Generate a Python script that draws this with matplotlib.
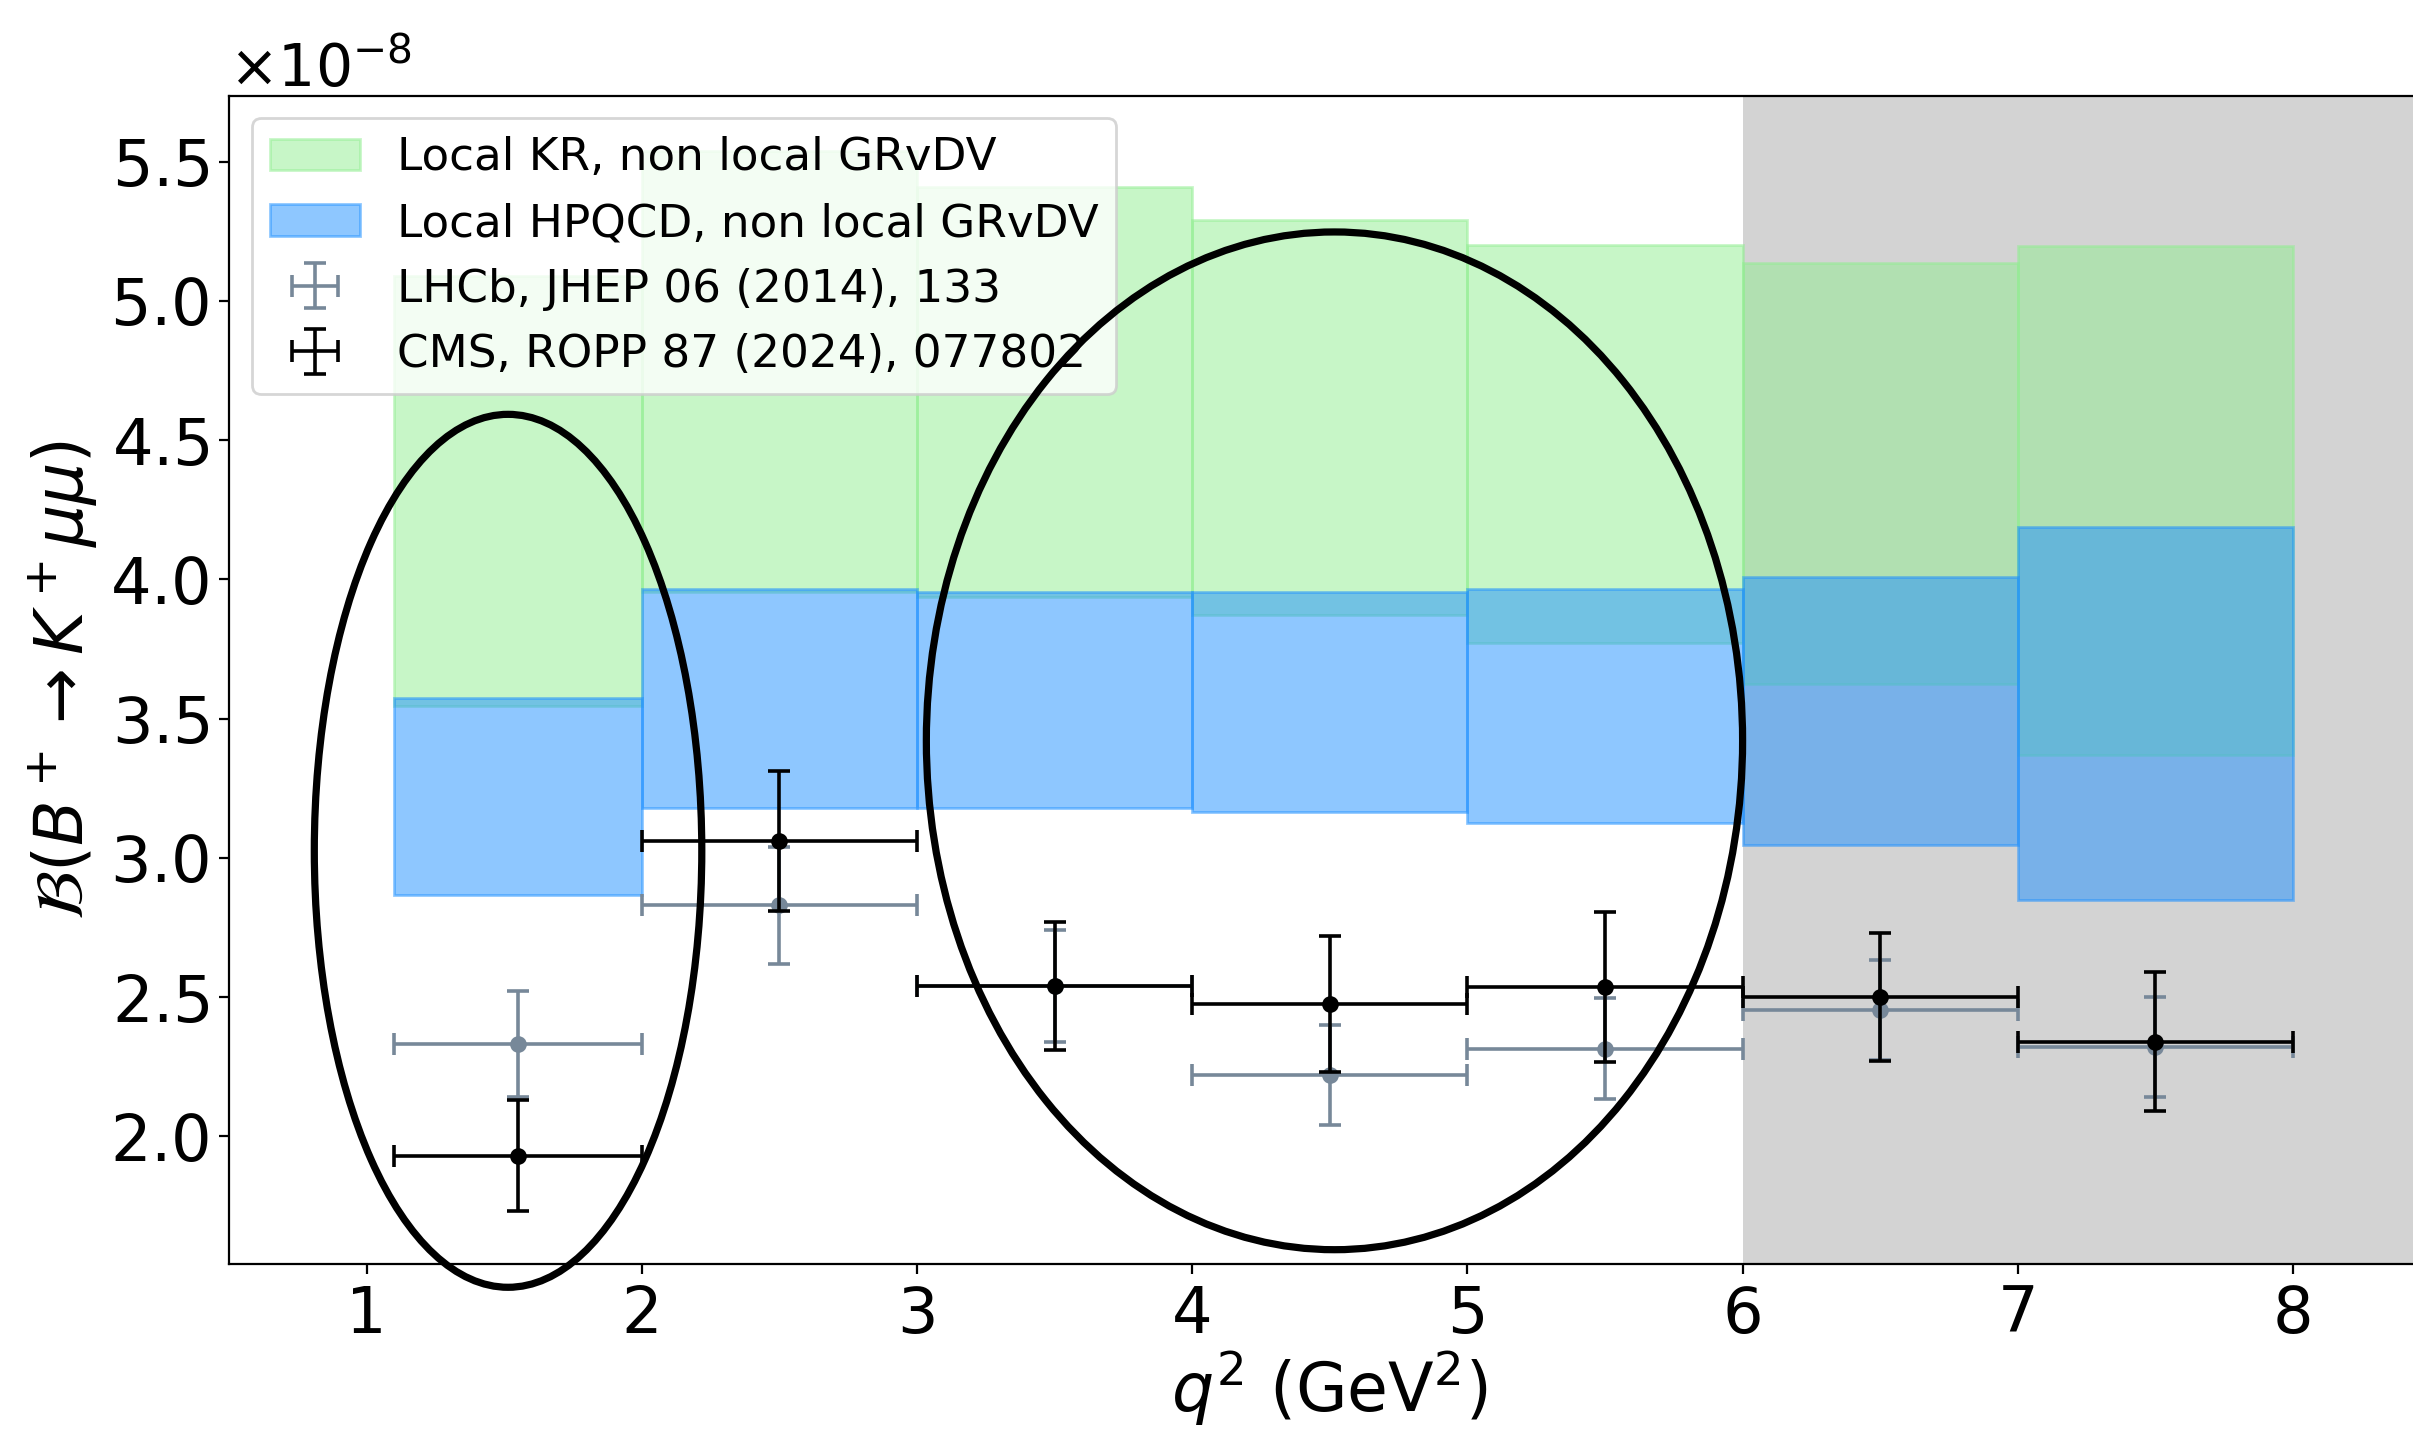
import matplotlib
matplotlib.use("Agg")
import matplotlib.pyplot as plt
import numpy as np
from matplotlib.patches import Ellipse

# ---- data (branching fraction in units of 1e-8) ----
bin_lo = [1.1, 2.0, 3.0, 4.0, 5.0, 6.0, 7.0]
bin_hi = [2.0, 3.0, 4.0, 5.0, 6.0, 7.0, 8.0]

kr_lo = [3.546, 3.955, 3.935, 3.872, 3.772, 3.623, 3.368]
kr_hi = [5.09, 5.54, 5.41, 5.29, 5.20, 5.137, 5.196]

hpqcd_lo = [2.868, 3.179, 3.178, 3.163, 3.124, 3.047, 2.850]
hpqcd_hi = [3.574, 3.965, 3.955, 3.955, 3.966, 4.010, 4.187]

bin_center = [1.55, 2.5, 3.5, 4.5, 5.5, 6.5, 7.5]

lhcb_y = [2.33, 2.83, 2.54, 2.22, 2.315, 2.453, 2.32]
lhcb_yerr = [0.19, 0.21, 0.20, 0.18, 0.18, 0.18, 0.18]

cms_y = [1.93, 3.06, 2.54, 2.475, 2.535, 2.50, 2.34]
cms_yerr = [0.20, 0.25, 0.23, 0.245, 0.27, 0.23, 0.25]

x_ticks = [1, 2, 3, 4, 5, 6, 7, 8]
y_ticks = [2.0, 2.5, 3.0, 3.5, 4.0, 4.5, 5.0, 5.5]

scale = 1e-8

lo = np.array(bin_lo)
hi = np.array(bin_hi)
xc = np.array(bin_center)

fig = plt.figure(figsize=(2413 / 200, 1432 / 200), dpi=200)
ax = fig.add_axes([229 / 2413, 0.1171, 8 * 275.2 / 2413, 0.9332 - 0.1171])

# excluded region
ax.axvspan(6.0, 8.5, color="lightgray", zorder=0, lw=0)

ax.bar(lo, (np.array(kr_hi) - np.array(kr_lo)) * scale, width=hi - lo,
       bottom=np.array(kr_lo) * scale, align="edge", color="lightgreen",
       alpha=0.5, edgecolor="lightgreen", linewidth=1.0, zorder=1,
       label="Local KR, non local GRvDV")
ax.bar(lo, (np.array(hpqcd_hi) - np.array(hpqcd_lo)) * scale, width=hi - lo,
       bottom=np.array(hpqcd_lo) * scale, align="edge", color="dodgerblue",
       alpha=0.5, edgecolor="dodgerblue", linewidth=1.0, zorder=2,
       label="Local HPQCD, non local GRvDV")

xerr = [xc - lo, hi - xc]
ax.errorbar(xc, np.array(lhcb_y) * scale, xerr=xerr,
            yerr=np.array(lhcb_yerr) * scale, fmt="none", ecolor="lightslategray",
            elinewidth=1.3, capsize=4, capthick=1.3, zorder=3,
            label="LHCb, JHEP 06 (2014), 133")
ax.plot(xc, np.array(lhcb_y) * scale, "o", color="lightslategray", ms=5, zorder=3)
ax.errorbar(xc, np.array(cms_y) * scale, xerr=xerr,
            yerr=np.array(cms_yerr) * scale, fmt="none", ecolor="black",
            elinewidth=1.3, capsize=4, capthick=1.3, zorder=4,
            label="CMS, ROPP 87 (2024), 077802")
ax.plot(xc, np.array(cms_y) * scale, "o", color="black", ms=5, zorder=4)

# hand-drawn highlight ellipses
for (cx, cy, w, h) in [(1.514, 3.025, 1.408, 3.135), (4.517, 3.42, 2.966, 3.655)]:
    ax.add_patch(Ellipse((cx, cy * scale), w, h * scale,
                         fill=False, lw=2.6, color="black",
                         clip_on=False, zorder=6))

ax.set_xlim(0.5, 8.5)
ax.set_ylim(1.54 * scale, 5.737 * scale)
ax.set_xticks(x_ticks)
ax.set_yticks(np.array(y_ticks) * scale)
ax.ticklabel_format(axis="y", style="sci", scilimits=(0, 0), useMathText=True)
ax.tick_params(labelsize=23)
ax.yaxis.get_offset_text().set_fontsize(21)

ax.set_xlabel(r"$q^2$ (GeV$^2$)", fontsize=24, labelpad=1)
ax.set_ylabel(r"$\mathcal{B}(B^+\to K^+\mu\mu)$", fontsize=24)

ax.legend(loc="upper left", fontsize=16.3)

fig.savefig("out.png", dpi=200)
